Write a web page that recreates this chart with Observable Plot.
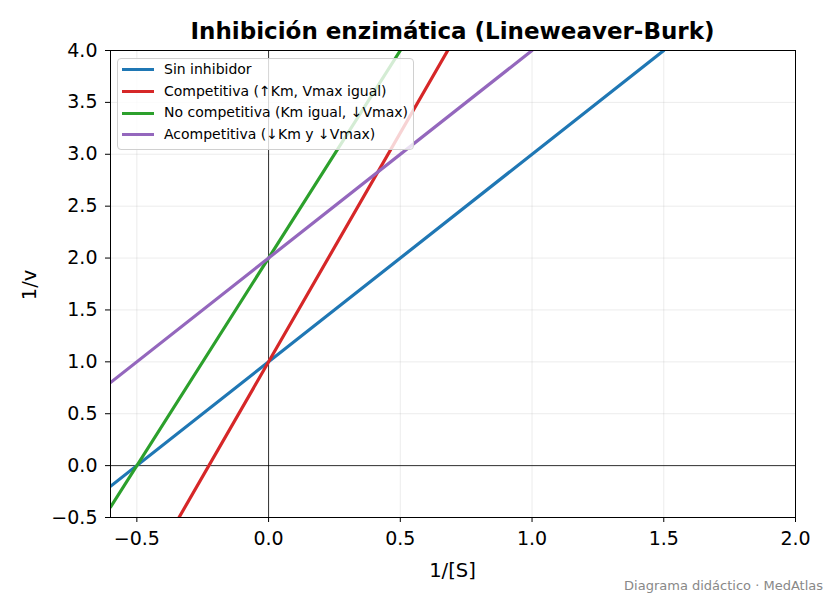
<!DOCTYPE html>
<html><head><meta charset="utf-8">
<script src="https://cdn.jsdelivr.net/npm/d3@7"></script>
<script src="https://cdn.jsdelivr.net/npm/@observablehq/plot@0.6"></script>
<style>
body{margin:0;background:#fff;font-family:"DejaVu Sans",sans-serif;}
#wrap{position:relative;width:832px;height:598px;overflow:hidden;}
#wrap div{line-height:1;}
#title{position:absolute;left:110px;width:685px;top:19.5px;text-align:center;font-weight:bold;font-size:23px;color:#000;white-space:nowrap;}
#legend{position:absolute;left:117px;top:58px;padding:0 5px 3px 4px;border:1px solid #d0d0d0;border-radius:4px;background:rgba(255,255,255,0.8);font-size:14px;}
#legend .row{display:flex;align-items:center;height:21.7px;line-height:21.7px;white-space:nowrap;}
.sw{width:32px;height:3px;margin:0 10px 0 0;}
#xlabel{position:absolute;left:110px;width:685px;top:561px;text-align:center;font-size:19.5px;}
#ylabel{position:absolute;left:30px;top:285px;transform:translate(-50%,-50%) rotate(-90deg);font-size:19.5px;}
#caption{position:absolute;right:9px;top:579px;font-size:13px;color:#888;white-space:nowrap;}
</style></head>
<body><div id="wrap"></div>
<script>
const series = ["Sin inhibidor", "Competitiva (↑Km, Vmax igual)", "No competitiva (Km igual, ↓Vmax)", "Acompetitiva (↓Km y ↓Vmax)"];
const colors = ["#1f77b4", "#d62728", "#2ca02c", "#9467bd"];
// visible endpoints (1/[S], 1/v)
const xStart = [-0.6, -0.34, -0.6, -0.6];
const yStart = [-0.2, -0.5, -0.4, 0.8];
const xEnd = [1.5, 0.68, 0.5, 1.0];
const yEnd = [4.0, 4.0, 4.0, 4.0];
const xTicks = [-0.5, 0.0, 0.5, 1.0, 1.5, 2.0];
const yTicks = [-0.5, 0.0, 0.5, 1.0, 1.5, 2.0, 2.5, 3.0, 3.5, 4.0];

const rows = [];
series.forEach((s, i) => {
  rows.push({s, x: xStart[i], y: yStart[i]});
  rows.push({s, x: xEnd[i], y: yEnd[i]});
});
const fmt = d3.format(".1f");
const chart = Plot.plot({
  width: 832, height: 598,
  marginTop: 50, marginBottom: 81, marginLeft: 110, marginRight: 37,
  style: {fontFamily: "DejaVu Sans", fontSize: "19px", color: "#000", background: "transparent"},
  x: {domain: [-0.6, 2.0]},
  y: {domain: [-0.5, 4.0]},
  color: {domain: series, range: colors},
  marks: [
    Plot.gridX(xTicks, {stroke: "#b0b0b0", strokeOpacity: 0.3, strokeWidth: 0.8}),
    Plot.gridY(yTicks, {stroke: "#b0b0b0", strokeOpacity: 0.3, strokeWidth: 0.8}),
    Plot.ruleX([0], {stroke: "#000", strokeWidth: 0.8}),
    Plot.ruleY([0], {stroke: "#000", strokeWidth: 0.8}),
    Plot.line(rows, {x: "x", y: "y", z: "s", stroke: "s", strokeWidth: 3.2, clip: true}),
    Plot.frame({stroke: "#000", strokeWidth: 1}),
    Plot.axisX(xTicks, {tickSize: 5, tickPadding: 9, tickFormat: fmt, label: null}),
    Plot.axisY(yTicks, {tickSize: 5, tickPadding: 8, tickFormat: fmt, label: null})
  ]
});
const wrap = document.getElementById("wrap");
chart.style.position = "absolute"; chart.style.left = "0"; chart.style.top = "0";
wrap.appendChild(chart);
const add = (id, html) => { const d = document.createElement("div"); d.id = id; d.innerHTML = html; wrap.appendChild(d); return d; };
add("title", "Inhibición enzimática (Lineweaver-Burk)");
add("xlabel", "1/[S]");
add("ylabel", "1/v");
add("caption", "Diagrama didáctico · MedAtlas");
const lg = add("legend", "");
series.forEach((s, i) => {
  const r = document.createElement("div"); r.className = "row";
  r.innerHTML = `<div class="sw" style="background:${colors[i]}"></div><span>${s}</span>`;
  lg.appendChild(r);
});
</script></body></html>
